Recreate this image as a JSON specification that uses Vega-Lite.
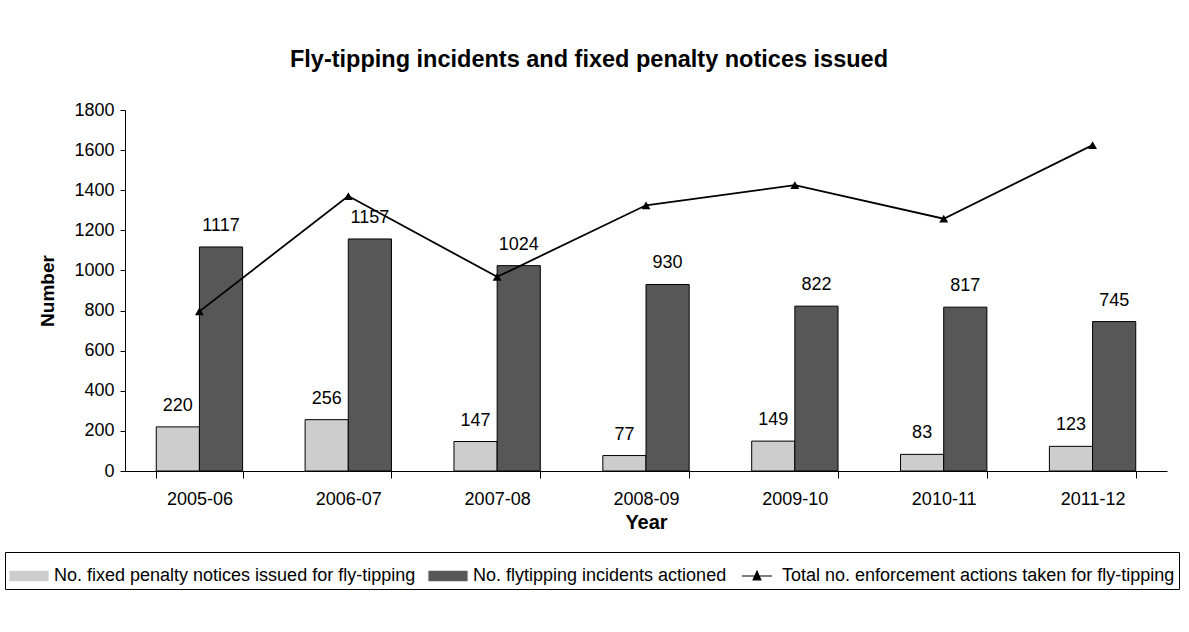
{
  "$schema": "https://vega.github.io/schema/vega-lite/v6.json",
  "width": 1042,
  "height": 361,
  "autosize": "none",
  "padding": {"left": 125, "top": 110, "right": 22, "bottom": 161},
  "background": "white",
  "config": {
    "view": {"stroke": null},
    "font": "Liberation Sans",
    "text": {"font": "Liberation Sans"}
  },
  "title": {
    "text": "Fly-tipping incidents and fixed penalty notices issued",
    "fontSize": 23.5,
    "fontWeight": "bold",
    "anchor": "middle",
    "dx": -57,
    "offset": 30,
    "color": "black",
    "font": "Liberation Sans"
  },
  "data": {
    "values": [
      {"year": "2005-06", "series": "No. fixed penalty notices issued for fly-tipping", "value": 220},
      {"year": "2006-07", "series": "No. fixed penalty notices issued for fly-tipping", "value": 256},
      {"year": "2007-08", "series": "No. fixed penalty notices issued for fly-tipping", "value": 147},
      {"year": "2008-09", "series": "No. fixed penalty notices issued for fly-tipping", "value": 77},
      {"year": "2009-10", "series": "No. fixed penalty notices issued for fly-tipping", "value": 149},
      {"year": "2010-11", "series": "No. fixed penalty notices issued for fly-tipping", "value": 83},
      {"year": "2011-12", "series": "No. fixed penalty notices issued for fly-tipping", "value": 123},
      {"year": "2005-06", "series": "No. flytipping incidents actioned", "value": 1117},
      {"year": "2006-07", "series": "No. flytipping incidents actioned", "value": 1157},
      {"year": "2007-08", "series": "No. flytipping incidents actioned", "value": 1024},
      {"year": "2008-09", "series": "No. flytipping incidents actioned", "value": 930},
      {"year": "2009-10", "series": "No. flytipping incidents actioned", "value": 822},
      {"year": "2010-11", "series": "No. flytipping incidents actioned", "value": 817},
      {"year": "2011-12", "series": "No. flytipping incidents actioned", "value": 745},
      {"year": "2005-06", "series": "Total no. enforcement actions taken for fly-tipping", "value": 796},
      {"year": "2006-07", "series": "Total no. enforcement actions taken for fly-tipping", "value": 1371},
      {"year": "2007-08", "series": "Total no. enforcement actions taken for fly-tipping", "value": 968},
      {"year": "2008-09", "series": "Total no. enforcement actions taken for fly-tipping", "value": 1325},
      {"year": "2009-10", "series": "Total no. enforcement actions taken for fly-tipping", "value": 1425},
      {"year": "2010-11", "series": "Total no. enforcement actions taken for fly-tipping", "value": 1258},
      {"year": "2011-12", "series": "Total no. enforcement actions taken for fly-tipping", "value": 1625}
    ]
  },
  "encoding": {
    "x": {
      "field": "year",
      "type": "nominal",
      "sort": null,
      "scale": {"paddingInner": 0.42, "paddingOuter": 0.21},
      "axis": {
        "title": "Year",
        "titleFontSize": 20,
        "titleFontWeight": "bold",
        "titleColor": "black",
        "titlePadding": 4,
        "labelFontSize": 18,
        "labelColor": "black",
        "labelAngle": 0,
        "labelPadding": 12,
        "domainColor": "black",
        "tickColor": "black",
        "tickSize": 7,
        "tickBand": "extent",
        "grid": false
      }
    },
    "y": {
      "field": "value",
      "type": "quantitative",
      "scale": {"domain": [0, 1800], "nice": false},
      "axis": {
        "title": "Number",
        "titleFontSize": 19,
        "titleFontWeight": "bold",
        "titleColor": "black",
        "titlePadding": 16,
        "labelFontSize": 18,
        "labelColor": "black",
        "labelPadding": 6,
        "format": "d",
        "values": [0, 200, 400, 600, 800, 1000, 1200, 1400, 1600, 1800],
        "domainColor": "black",
        "tickColor": "black",
        "tickSize": 5,
        "grid": false
      }
    },
    "color": {
      "field": "series",
      "type": "nominal",
      "scale": {
        "domain": ["No. fixed penalty notices issued for fly-tipping", "No. flytipping incidents actioned", "Total no. enforcement actions taken for fly-tipping"],
        "range": ["#cdcdcd", "#575757", "#000000"]
      },
      "legend": {
        "orient": "none",
        "legendX": -120,
        "legendY": 442,
        "direction": "horizontal",
        "columns": 3,
        "title": null,
        "labelFontSize": 18,
        "labelColor": "black",
        "labelLimit": 600,
        "labelOffset": 5,
        "symbolSize": 1444,
        "symbolStrokeColor": "black",
        "symbolStrokeWidth": 1.2,
        "symbolOpacity": 1,
        "strokeColor": "black",
        "padding": 4,
        "columnPadding": 10,
        "encode": {
          "symbols": {
            "update": {
              "shape": {"signal": "datum.value === 'Total no. enforcement actions taken for fly-tipping' ? 'M-0.8,0H0.8M-0.2,0.2L0,-0.25L0.2,0.2Z' : 'M-1,-0.24H1V0.24H-1Z'"},
              "stroke": {"value": "black"},
              "strokeWidth": {"value": 1.2}
            }
          }
        }
      }
    }
  },
  "layer": [
    {
      "transform": [{"filter": "datum.series !== 'Total no. enforcement actions taken for fly-tipping'"}],
      "mark": {"type": "bar", "stroke": "black", "strokeWidth": 1, "opacity": 1},
      "encoding": {
        "xOffset": {
          "field": "series",
          "type": "nominal",
          "scale": {"domain": ["No. fixed penalty notices issued for fly-tipping", "No. flytipping incidents actioned"]}
        }
      }
    },
    {
      "transform": [{"filter": "datum.series !== 'Total no. enforcement actions taken for fly-tipping'"}],
      "mark": {"type": "text", "baseline": "bottom", "dy": -12, "fontSize": 18, "color": "black"},
      "encoding": {
        "xOffset": {"field": "series", "type": "nominal"},
        "text": {"field": "value", "type": "quantitative"},
        "color": {"value": "black"}
      }
    },
    {
      "transform": [{"filter": "datum.series === 'Total no. enforcement actions taken for fly-tipping'"}],
      "mark": {
        "type": "line",
        "strokeWidth": 1.8,
        "point": {"shape": "triangle-up", "size": 80, "filled": true, "color": "black"}
      },
      "encoding": {}
    }
  ]
}
